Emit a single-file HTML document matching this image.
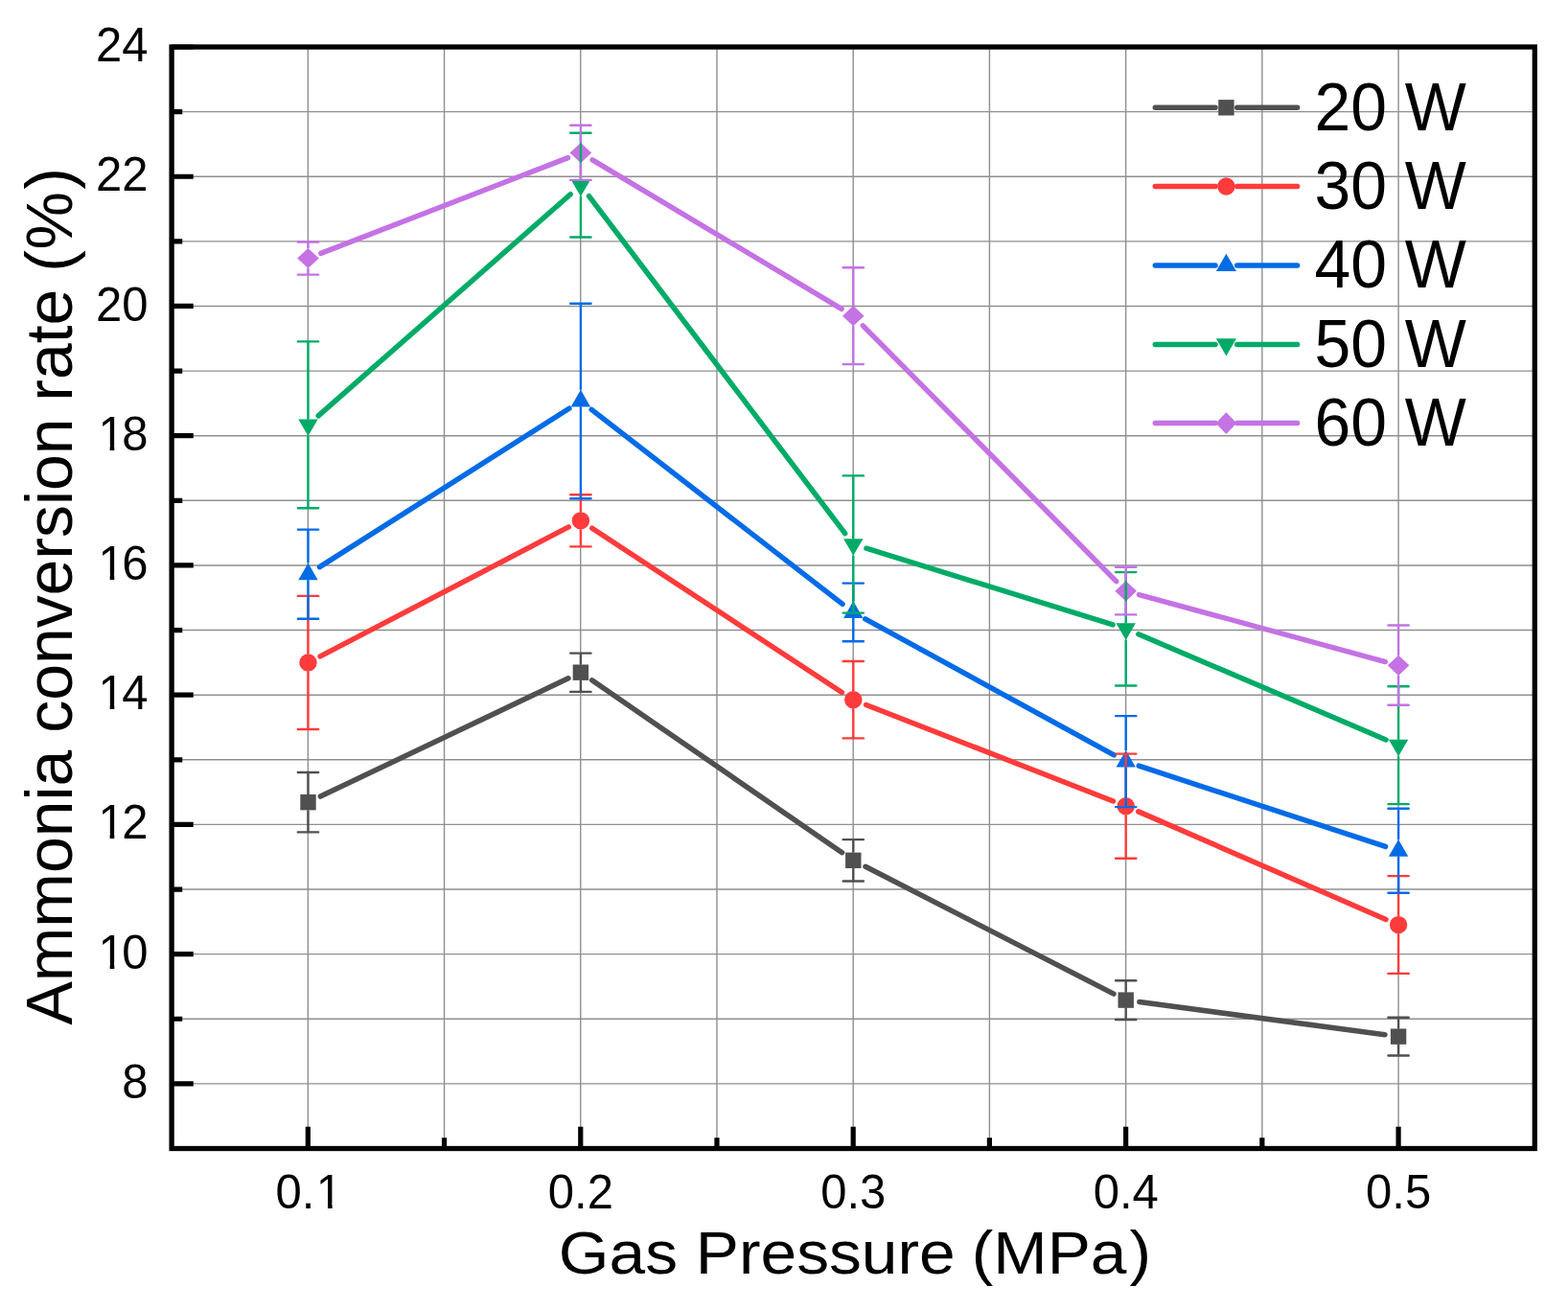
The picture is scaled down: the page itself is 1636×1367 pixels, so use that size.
<!DOCTYPE html>
<html><head><meta charset="utf-8"><title>Ammonia conversion rate vs gas pressure</title>
<style>
html,body{margin:0;padding:0;background:#fff;}
body{width:1636px;height:1367px;overflow:hidden;}
svg{display:block;}
text{font-family:"Liberation Sans",Arial,Helvetica,sans-serif;fill:#000;}
</style></head><body>
<svg width="1636" height="1367" viewBox="0 0 1636 1367">
<rect width="1636" height="1367" fill="#fff"/>
<path d="M321.32 49.00V1198.50M463.54 49.00V1198.50M605.76 49.00V1198.50M747.98 49.00V1198.50M890.20 49.00V1198.50M1032.42 49.00V1198.50M1174.64 49.00V1198.50M1316.86 49.00V1198.50M1459.08 49.00V1198.50M179.10 1130.88H1601.30M179.10 1063.26H1601.30M179.10 995.65H1601.30M179.10 928.03H1601.30M179.10 860.41H1601.30M179.10 792.79H1601.30M179.10 725.18H1601.30M179.10 657.56H1601.30M179.10 589.94H1601.30M179.10 522.32H1601.30M179.10 454.71H1601.30M179.10 387.09H1601.30M179.10 319.47H1601.30M179.10 251.85H1601.30M179.10 184.24H1601.30M179.10 116.62H1601.30" stroke="#8f8f8f" stroke-width="1.4" fill="none"/>
<path d="M179.10 1130.88H201.75M179.10 995.65H201.75M179.10 860.41H201.75M179.10 725.18H201.75M179.10 589.94H201.75M179.10 454.71H201.75M179.10 319.47H201.75M179.10 184.24H201.75M179.10 49.00H201.75M179.10 1063.26H190.25M179.10 928.03H190.25M179.10 792.79H190.25M179.10 657.56H190.25M179.10 522.32H190.25M179.10 387.09H190.25M179.10 251.85H190.25M179.10 116.62H190.25M321.32 1198.50V1175.85M605.76 1198.50V1175.85M890.20 1198.50V1175.85M1174.64 1198.50V1175.85M1459.08 1198.50V1175.85M463.54 1198.50V1187.35M747.98 1198.50V1187.35M1032.42 1198.50V1187.35M1316.86 1198.50V1187.35" stroke="#000" stroke-width="5.2" fill="none"/>
<rect x="179.10" y="49.00" width="1422.20" height="1149.50" stroke="#000" stroke-width="5.3" fill="none"/>
<path d="M334.36 831.07L593.04 707.83M617.63 709.79L878.57 889.71M902.98 904.30L1162.02 1037.10M1188.82 1045.49L1444.98 1079.76" stroke="#505050" stroke-width="5.5" stroke-linecap="round" fill="none"/>
<path d="M334.14 684.87L593.26 549.93M617.81 551.18L878.39 722.47M903.58 735.48L1161.42 836.02M1187.76 846.89L1446.04 959.41" stroke="#ff3b3b" stroke-width="5.5" stroke-linecap="round" fill="none"/>
<path d="M333.53 591.66L593.87 426.24M617.16 427.33L879.04 630.37M902.80 645.94L1162.20 787.86M1188.24 799.13L1445.56 883.37" stroke="#036be6" stroke-width="5.5" stroke-linecap="round" fill="none"/>
<path d="M332.20 433.89L595.20 202.71M614.52 204.65L881.68 556.65M903.91 572.22L1161.09 651.98M1187.81 661.79L1445.99 771.91" stroke="#00ab67" stroke-width="5.5" stroke-linecap="round" fill="none"/>
<path d="M334.79 264.36L592.61 164.64M618.13 166.82L878.07 322.38M900.33 339.82L1164.67 606.68M1188.45 620.55L1445.35 690.55" stroke="#c472e4" stroke-width="5.5" stroke-linecap="round" fill="none"/>
<rect x="313.30" y="829.00" width="16.40" height="16.40" fill="#505050"/><rect x="597.70" y="693.50" width="16.40" height="16.40" fill="#505050"/><rect x="882.10" y="889.60" width="16.40" height="16.40" fill="#505050"/><rect x="1166.50" y="1035.40" width="16.40" height="16.40" fill="#505050"/><rect x="1450.90" y="1073.45" width="16.40" height="16.40" fill="#505050"/>
<circle cx="321.50" cy="691.45" r="9.20" fill="#ff3b3b"/><circle cx="605.90" cy="543.35" r="9.20" fill="#ff3b3b"/><circle cx="890.30" cy="730.30" r="9.20" fill="#ff3b3b"/><circle cx="1174.70" cy="841.20" r="9.20" fill="#ff3b3b"/><circle cx="1459.10" cy="965.10" r="9.20" fill="#ff3b3b"/>
<path d="M321.50 587.57L331.70 605.17L311.30 605.17Z" fill="#036be6"/><path d="M605.90 406.87L616.10 424.47L595.70 424.47Z" fill="#036be6"/><path d="M890.30 627.37L900.50 644.97L880.10 644.97Z" fill="#036be6"/><path d="M1174.70 782.97L1184.90 800.57L1164.50 800.57Z" fill="#036be6"/><path d="M1459.10 876.07L1469.30 893.67L1448.90 893.67Z" fill="#036be6"/>
<path d="M321.50 455.03L331.70 437.43L311.30 437.43Z" fill="#00ab67"/><path d="M605.90 205.03L616.10 187.43L595.70 187.43Z" fill="#00ab67"/><path d="M890.30 579.73L900.50 562.13L880.10 562.13Z" fill="#00ab67"/><path d="M1174.70 667.93L1184.90 650.33L1164.50 650.33Z" fill="#00ab67"/><path d="M1459.10 789.23L1469.30 771.63L1448.90 771.63Z" fill="#00ab67"/>
<path d="M321.50 258.90L332.80 269.50L321.50 280.10L310.20 269.50Z" fill="#c472e4"/><path d="M605.90 148.90L617.20 159.50L605.90 170.10L594.60 159.50Z" fill="#c472e4"/><path d="M890.30 319.10L901.60 329.70L890.30 340.30L879.00 329.70Z" fill="#c472e4"/><path d="M1174.70 606.20L1186.00 616.80L1174.70 627.40L1163.40 616.80Z" fill="#c472e4"/><path d="M1459.10 683.70L1470.40 694.30L1459.10 704.90L1447.80 694.30Z" fill="#c472e4"/>
<path d="M321.50 806.00V829.00M321.50 845.40V868.40M605.90 681.60V693.50M605.90 709.90V721.90M890.30 876.10V889.60M890.30 906.00V919.50M1174.70 1023.20V1035.40M1174.70 1051.80V1064.00M1459.10 1061.80V1073.45M1459.10 1089.85V1101.50" stroke="#505050" stroke-width="2.4" fill="none"/>
<path d="M310.85 806.00H332.15M310.85 868.40H332.15M595.25 681.60H616.55M595.25 721.90H616.55M879.65 876.10H900.95M879.65 919.50H900.95M1164.05 1023.20H1185.35M1164.05 1064.00H1185.35M1448.45 1061.80H1469.75M1448.45 1101.50H1469.75" stroke="#505050" stroke-width="2.4" stroke-linecap="round" fill="none"/>
<path d="M321.50 621.90V682.25M321.50 700.65V761.00M605.90 516.30V534.15M605.90 552.55V570.40M890.30 690.00V721.10M890.30 739.50V770.40M1174.70 786.60V832.00M1174.70 850.40V895.80M1459.10 914.10V955.90M1459.10 974.30V1015.90" stroke="#ff3b3b" stroke-width="2.4" fill="none"/>
<path d="M310.85 621.90H332.15M310.85 761.00H332.15M595.25 516.30H616.55M595.25 570.40H616.55M879.65 690.00H900.95M879.65 770.40H900.95M1164.05 786.60H1185.35M1164.05 895.80H1185.35M1448.45 914.10H1469.75M1448.45 1015.90H1469.75" stroke="#ff3b3b" stroke-width="2.4" stroke-linecap="round" fill="none"/>
<path d="M321.50 552.60V587.57M321.50 605.17V645.80M605.90 316.70V406.87M605.90 424.47V520.30M890.30 608.60V627.37M890.30 644.97V669.30M1174.70 747.10V782.97M1174.70 800.57V842.10M1459.10 843.70V876.07M1459.10 893.67V931.80" stroke="#036be6" stroke-width="2.4" fill="none"/>
<path d="M310.85 552.60H332.15M310.85 645.80H332.15M595.25 316.70H616.55M595.25 520.30H616.55M879.65 608.60H900.95M879.65 669.30H900.95M1164.05 747.10H1185.35M1164.05 842.10H1185.35M1448.45 843.70H1469.75M1448.45 931.80H1469.75" stroke="#036be6" stroke-width="2.4" stroke-linecap="round" fill="none"/>
<path d="M321.50 356.40V437.43M321.50 455.03V530.20M605.90 138.70V187.43M605.90 205.03V247.50M890.30 496.40V562.13M890.30 579.73V639.60M1174.70 597.10V650.33M1174.70 667.93V715.50M1459.10 716.30V771.63M1459.10 789.23V839.10" stroke="#00ab67" stroke-width="2.4" fill="none"/>
<path d="M310.85 356.40H332.15M310.85 530.20H332.15M595.25 138.70H616.55M595.25 247.50H616.55M879.65 496.40H900.95M879.65 639.60H900.95M1164.05 597.10H1185.35M1164.05 715.50H1185.35M1448.45 716.30H1469.75M1448.45 839.10H1469.75" stroke="#00ab67" stroke-width="2.4" stroke-linecap="round" fill="none"/>
<path d="M321.50 252.50V258.90M321.50 280.10V286.60M605.90 130.80V148.90M605.90 170.10V187.90M890.30 279.30V319.10M890.30 340.30V380.10M1174.70 591.80V606.20M1174.70 627.40V641.40M1459.10 652.50V683.70M1459.10 704.90V735.80" stroke="#c472e4" stroke-width="2.4" fill="none"/>
<path d="M310.85 252.50H332.15M310.85 286.60H332.15M595.25 130.80H616.55M595.25 187.90H616.55M879.65 279.30H900.95M879.65 380.10H900.95M1164.05 591.80H1185.35M1164.05 641.40H1185.35M1448.45 652.50H1469.75M1448.45 735.80H1469.75" stroke="#c472e4" stroke-width="2.4" stroke-linecap="round" fill="none"/>
<path d="M1205.30 112.30H1268.05M1290.75 112.30H1353.60" stroke="#505050" stroke-width="5.5" stroke-linecap="round" fill="none"/><rect x="1271.20" y="104.10" width="16.40" height="16.40" fill="#505050"/><text transform="translate(1371.4 135.6) scale(1 1.037)" font-size="67.9">20 W</text>
<path d="M1205.30 194.50H1268.05M1290.75 194.50H1353.60" stroke="#ff3b3b" stroke-width="5.5" stroke-linecap="round" fill="none"/><circle cx="1279.40" cy="194.50" r="9.20" fill="#ff3b3b"/><text transform="translate(1371.4 217.8) scale(1 1.037)" font-size="67.9">30 W</text>
<path d="M1205.30 277.00H1268.05M1290.75 277.00H1353.60" stroke="#036be6" stroke-width="5.5" stroke-linecap="round" fill="none"/><path d="M1279.40 264.80L1290.00 283.10L1268.80 283.10Z" fill="#036be6"/><text transform="translate(1371.4 300.3) scale(1 1.037)" font-size="67.9">40 W</text>
<path d="M1205.30 359.40H1268.05M1290.75 359.40H1353.60" stroke="#00ab67" stroke-width="5.5" stroke-linecap="round" fill="none"/><path d="M1279.40 371.60L1290.00 353.30L1268.80 353.30Z" fill="#00ab67"/><text transform="translate(1371.4 382.7) scale(1 1.037)" font-size="67.9">50 W</text>
<path d="M1205.30 441.60H1268.05M1290.75 441.60H1353.60" stroke="#c472e4" stroke-width="5.5" stroke-linecap="round" fill="none"/><path d="M1279.40 430.30L1290.30 441.60L1279.40 452.90L1268.50 441.60Z" fill="#c472e4"/><text transform="translate(1371.4 464.9) scale(1 1.037)" font-size="67.9">60 W</text>
<g transform="translate(0 1145.9) scale(1 1.03)"><text x="154.5" y="0" font-size="49" text-anchor="end">8</text></g><g transform="translate(0 1010.6) scale(1 1.03)"><text x="102.50 127.25" y="0" font-size="49">10</text><rect x="105.23" y="-5.26" width="9.44" height="6.26" fill="#fff"/><rect x="119.30" y="-5.26" width="9.06" height="6.26" fill="#fff"/></g><g transform="translate(0 875.4) scale(1 1.03)"><text x="102.50 127.25" y="0" font-size="49">12</text><rect x="105.23" y="-5.26" width="9.44" height="6.26" fill="#fff"/><rect x="119.30" y="-5.26" width="9.06" height="6.26" fill="#fff"/></g><g transform="translate(0 740.2) scale(1 1.03)"><text x="102.50 127.25" y="0" font-size="49">14</text><rect x="105.23" y="-5.26" width="9.44" height="6.26" fill="#fff"/><rect x="119.30" y="-5.26" width="9.06" height="6.26" fill="#fff"/></g><g transform="translate(0 604.9) scale(1 1.03)"><text x="102.50 127.25" y="0" font-size="49">16</text><rect x="105.23" y="-5.26" width="9.44" height="6.26" fill="#fff"/><rect x="119.30" y="-5.26" width="9.06" height="6.26" fill="#fff"/></g><g transform="translate(0 469.7) scale(1 1.03)"><text x="102.50 127.25" y="0" font-size="49">18</text><rect x="105.23" y="-5.26" width="9.44" height="6.26" fill="#fff"/><rect x="119.30" y="-5.26" width="9.06" height="6.26" fill="#fff"/></g><g transform="translate(0 334.5) scale(1 1.03)"><text x="154.5" y="0" font-size="49" text-anchor="end">20</text></g><g transform="translate(0 199.2) scale(1 1.03)"><text x="154.5" y="0" font-size="49" text-anchor="end">22</text></g><g transform="translate(0 64.0) scale(1 1.03)"><text x="154.5" y="0" font-size="49" text-anchor="end">24</text></g>
<g transform="translate(0 1260.9) scale(1 1.03)"><text x="287.44 314.69 329.81" y="0" font-size="49">0.1</text><rect x="332.54" y="-5.26" width="9.44" height="6.26" fill="#fff"/><rect x="346.61" y="-5.26" width="9.06" height="6.26" fill="#fff"/></g><g transform="translate(0 1260.9) scale(1 1.03)"><text x="605.90" y="0" font-size="49" text-anchor="middle">0.2</text></g><g transform="translate(0 1260.9) scale(1 1.03)"><text x="890.30" y="0" font-size="49" text-anchor="middle">0.3</text></g><g transform="translate(0 1260.9) scale(1 1.03)"><text x="1174.70" y="0" font-size="49" text-anchor="middle">0.4</text></g><g transform="translate(0 1260.9) scale(1 1.03)"><text x="1459.10" y="0" font-size="49" text-anchor="middle">0.5</text></g>
<text transform="translate(891.9 1329.4) scale(1 0.925)" font-size="67.7" text-anchor="middle">Gas Pressure <tspan dx="-1.7">(</tspan>MPa<tspan dx="2.9">)</tspan></text>
<text transform="translate(74.5 1069.5) rotate(-90)" font-size="67.9">Ammonia <tspan dx="-0.9">conversion</tspan> <tspan dx="-1.1">rate</tspan> <tspan dx="-1.0">(</tspan><tspan dx="0.7">%</tspan><tspan dx="2.4">)</tspan></text>
</svg>
</body></html>
